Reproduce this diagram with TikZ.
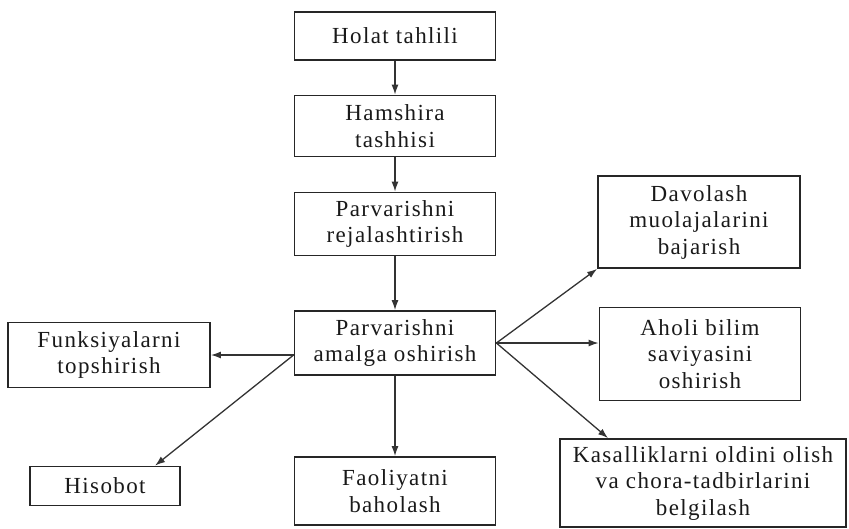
\documentclass[tikz,border=0pt]{standalone}
\usepackage{fontspec}
\setmainfont{Liberation Serif}[LetterSpace=6]
\usetikzlibrary{calc,arrows.meta}
\tikzset{
	box/.style={draw=black!85, line width=1.8pt, align=center, inner sep=0pt, text=black!90,
		font=\fontsize{23}{26.5}\selectfont},
	arr/.style={draw=black!80, line width=1.3pt, -{Latex[length=10pt,width=7pt]}}
}

\begin{document}
\begin{tikzpicture}[x=1pt, y=-1pt]
		%%%%% START %%%%%
		\useasboundingbox (0, 0) rectangle (849, 528);
		
		% middle column
		\node[box, minimum width=201, minimum height=48] (holat) at (395, 36) {Holat tahlili};
		\node[box, minimum width=201, minimum height=61] (hamshira) at (395, 126) {Hamshira\\tashhisi};
		\node[box, minimum width=201, minimum height=63] (reja) at (395, 224) {Parvarishni\\rejalashtirish};
		\node[box, minimum width=201, minimum height=64] (amalga) at (395, 343) {Parvarishni\\amalga oshirish};
		\node[box, minimum width=201, minimum height=68] (faol) at (395, 491) {Faoliyatni\\baholash};
		
		% left side
		\node[box, minimum width=202, minimum height=65] (funks) at (109, 355) {Funksiyalarni\\topshirish};
		\node[box, minimum width=150, minimum height=39] (hisobot) at (105, 486) {Hisobot};
		
		% right side
		\node[box, minimum width=202, minimum height=92] (davolash) at (699, 222) {Davolash\\muolajalarini\\bajarish};
		\node[box, minimum width=201, minimum height=93] (aholi) at (700, 354) {Aholi bilim\\saviyasini\\oshirish};
		\node[box, minimum width=286, minimum height=88] (kasal) at (703, 483) {Kasalliklarni oldini olish\\va chora-tadbirlarini\\belgilash};
		
		\coordinate (split) at (amalga.west |- funks.east);
		
		\draw[arr] (holat) -- (hamshira);
		\draw[arr] (hamshira) -- (reja);
		\draw[arr] (reja) -- (amalga);
		\draw[arr] (amalga) -- (faol);
		
		\draw[arr] (split) -- (funks.east);
		\draw[arr] (split) -- ($(hisobot.north)!0.66!(hisobot.north east)$);
		
		\draw[arr] (amalga.east) -- (davolash.south west);
		\draw[arr] (amalga.east) -- (amalga.east -| aholi.west);
		\draw[arr] (amalga.east) -- ($(kasal.north west)!0.17!(kasal.north east)$);
		
		%%%%% END %%%%%
	\end{tikzpicture}
\end{document}
